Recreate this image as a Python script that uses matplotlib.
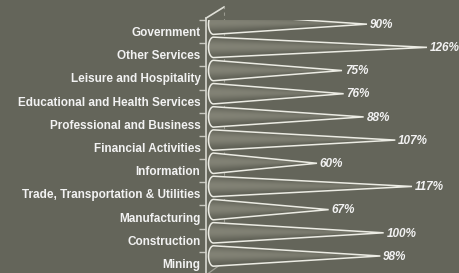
import numpy as np
import matplotlib
matplotlib.use('Agg')
import matplotlib.pyplot as plt
from matplotlib.patches import Polygon

# data (bottom to top)
categories = ['Mining', 'Construction', 'Manufacturing',
              'Trade, Transportation & Utilities', 'Information',
              'Financial Activities', 'Professional and Business',
              'Educational and Health Services', 'Leisure and Hospitality',
              'Other Services', 'Government']
values = [98, 100, 67, 117, 60, 107, 88, 76, 75, 126, 90]

bg = np.array([0.392, 0.396, 0.353])
light = np.array([0.51, 0.51, 0.46])
dark = np.array([0.34, 0.345, 0.305])
txt = '#f2f2f2'
edge = '#ecece4'

plt.rcParams['font.family'] = ['Liberation Sans', 'DejaVu Sans']

fig = plt.figure(figsize=(4.59, 2.73), dpi=100)
fig.patch.set_facecolor(bg)
ax = fig.add_axes([206 / 459, -2 / 273, 250 / 459, 255 / 273])
ax.set_facecolor('none')
ax.set_xlim(-6.6, 143.4)
ax.set_ylim(0, 11)

# 3d depth
dx, dy = 10.8, 0.56
xb = -2.1           # cone base centre
rx, ry = 3.0, 0.44  # base ellipse radii

for i, v in enumerate(values):
    yc = i + 0.5 + 0.32
    xt = v
    th = np.linspace(np.pi / 2, 3 * np.pi / 2, 40)
    pts = np.column_stack([xb + rx * np.cos(th), yc + ry * np.sin(th)])
    pts = np.vstack([pts, [xt, yc]])
    poly = Polygon(pts, closed=True, facecolor='none', edgecolor=edge,
                   lw=1.1, zorder=4)
    ax.add_patch(poly)

    # gradient fill
    nx, ny = 200, 40
    xs = np.linspace(xb - rx, xt, nx)
    ys = np.linspace(yc + ry, yc - ry, ny)
    X, Y = np.meshgrid(xs, ys)
    u = np.clip((X - xb) / (xt - xb), 0, 1)
    half = np.maximum(ry * (1 - u), 1e-6)
    s = (Y - yc) / half
    w = np.exp(-((s - 0.1) / 0.8) ** 2)
    col = dark[None, None, :] * (1 - w[..., None]) + light[None, None, :] * w[..., None]
    fade = (u ** 1.5)[..., None] * 0.6
    col = col * (1 - fade) + bg[None, None, :] * fade
    im = ax.imshow(col, extent=[xb - rx, xt, yc - ry, yc + ry],
                   aspect='auto', zorder=3, interpolation='bilinear')
    im.set_clip_path(poly)

    ax.annotate(f'{v}%', (xt, yc), xytext=(2, -0.5), textcoords='offset points',
                ha='left', va='center', color=txt, fontsize=8.5,
                fontweight='bold', fontstyle='italic', zorder=5)

# walls
ax.plot([-6.6, -6.6 + dx], [11.08, 11 + dy], color='#e0e0d8', lw=1.2,
        clip_on=False, zorder=2)
ax.plot([-6.6 + dx, -6.6 + dx], [dy, 11 + dy], color='#9a9a90', lw=0.8,
        ls=(0, (3, 3)), clip_on=False, zorder=2)
ax.plot([-6.6, -6.6 + dx], [0, dy], color='#a0a096', lw=0.9,
        clip_on=False, zorder=2)

for s in ['top', 'right', 'bottom']:
    ax.spines[s].set_visible(False)
ax.spines['left'].set_color('#d8d8d0')
ax.spines['left'].set_linewidth(1.2)
ax.spines['left'].set_bounds(0, 11.08)

ax.set_xticks([])
ax.set_yticks(np.arange(len(categories)) + 0.5)
ax.set_yticklabels(categories, color=txt, fontsize=8.5, fontweight='bold')
ax.tick_params(axis='y', which='major', length=0, pad=4)
ax.set_yticks(np.arange(len(categories) + 1), minor=True)
ax.tick_params(axis='y', which='minor', length=5, color='#c8c8c0', width=1)

fig.savefig('out.png', dpi=100, facecolor=fig.get_facecolor())
